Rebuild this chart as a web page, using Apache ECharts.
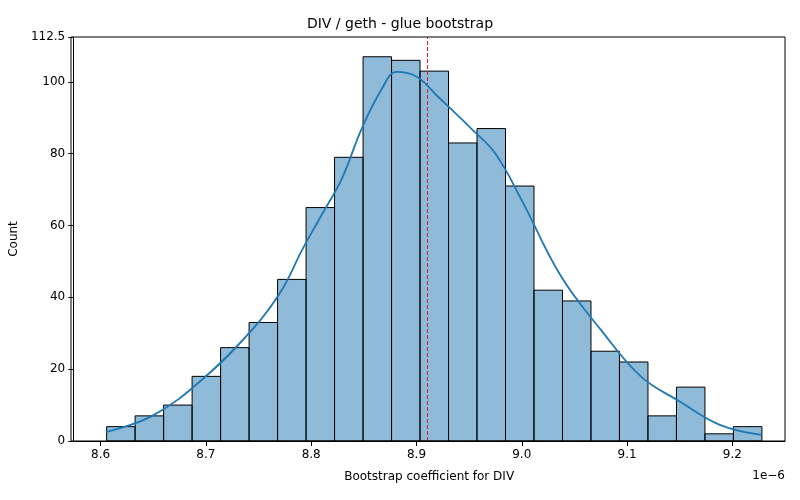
<!DOCTYPE html>
<html><head><meta charset="utf-8">
<script src="https://cdn.jsdelivr.net/npm/echarts@6/dist/echarts.min.js"></script>
<style>html,body{margin:0;padding:0;background:#fff}#chart{width:800px;height:500px}</style>
</head><body><div id="chart"></div>
<script>
// values in units of 1e-6
const binStart = 8.6057
const binWidth = 0.02706
const counts = [4, 7, 10, 18, 26, 33, 45, 65, 79, 107, 106, 103, 83, 87, 71, 42, 39, 25, 22, 7, 15, 2, 4]
const kdeX = [8.605, 8.649, 8.696, 8.744, 8.772, 8.791, 8.81, 8.829, 8.848, 8.867, 8.881, 8.9, 8.92, 8.952, 8.975, 9.0, 9.037, 9.075, 9.113, 9.15, 9.188, 9.228]
const kdeY = [2.5, 7, 17, 31, 42, 53, 63, 73, 87, 98, 102.8, 101.5, 96, 87, 80, 67, 46, 31, 18, 11, 4.5, 1.7]
const meanLine = 8.911

const bins = counts.map((c, i) => [binStart + i * binWidth, binStart + (i + 1) * binWidth, c])
const chart = echarts.init(document.getElementById("chart"), null, { renderer: "canvas" })
const font = "DejaVu Sans"

chart.setOption({
  animation: false,
  textStyle: { fontFamily: font },
  title: { text: "DIV / geth - glue bootstrap", left: "center", top: 12,
    textStyle: { fontFamily: font, fontSize: 14, fontWeight: "normal", color: "#000" } },
  grid: { left: 71, right: 15, top: 37, bottom: 59 },
  xAxis: {
    type: "value", min: 8.574, max: 9.25,
    name: "Bootstrap coefficient for DIV", nameLocation: "middle", nameGap: 30,
    nameTextStyle: { fontFamily: font, fontSize: 12, color: "#000" },
    axisLine: { onZero: false, lineStyle: { color: "#000" } },
    axisTick: { show: true, lineStyle: { color: "#000" } },
    axisLabel: { color: "#000", fontSize: 12, formatter: v => v.toFixed(1), showMinLabel: false, showMaxLabel: false },
    splitLine: { show: false }
  },
  yAxis: {
    type: "value", min: 0, max: 112.5, interval: 20,
    name: "Count", nameLocation: "middle", nameGap: 45,
    nameTextStyle: { fontFamily: font, fontSize: 12, color: "#000" },
    axisLine: { show: true, lineStyle: { color: "#000" } },
    axisTick: { show: true, lineStyle: { color: "#000" } },
    axisLabel: { color: "#000", fontSize: 12 },
    splitLine: { show: false }
  },
  graphic: [
    { type: "rect", shape: { x: 71, y: 37, width: 714, height: 404 }, style: { fill: "none", stroke: "#000", lineWidth: 1 }, z: 10 },
    { type: "text", right: 15, top: 470, style: { text: "1e\u22126", font: "12px DejaVu Sans", fill: "#000" } }
  ],
  series: [
    {
      type: "custom", data: bins,
      renderItem: (params, api) => {
        const p0 = api.coord([api.value(0), api.value(2)])
        const p1 = api.coord([api.value(1), 0])
        return { type: "rect", shape: { x: p0[0], y: p0[1], width: p1[0] - p0[0], height: p1[1] - p0[1] },
          style: { fill: "rgba(31,119,180,0.5)", stroke: "#000", lineWidth: 1 } }
      }
    },
    {
      type: "line", data: kdeX.map((x, i) => [x, kdeY[i]]), smooth: 0.4, symbol: "none",
      lineStyle: { color: "#1f77b4", width: 1.8 }, z: 5
    },
    {
      type: "line", data: [], markLine: { symbol: "none", silent: true, label: { show: false },
        lineStyle: { color: "#d62728", type: [4, 2], width: 1 }, data: [{ xAxis: meanLine }] }
    }
  ]
})
</script></body></html>
